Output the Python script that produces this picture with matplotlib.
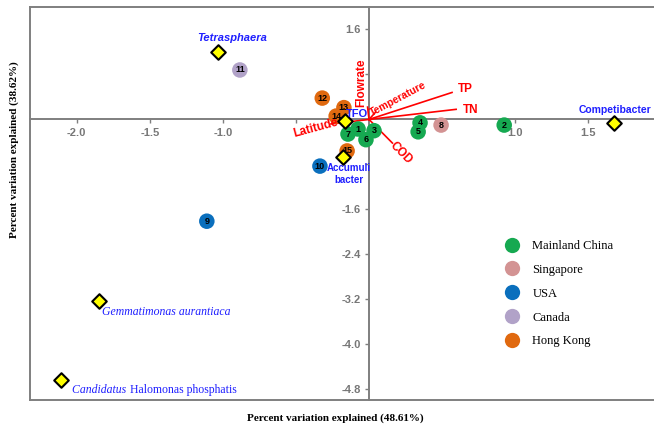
import matplotlib
matplotlib.use("Agg")
import matplotlib.pyplot as plt
from matplotlib.lines import Line2D

# sites (numbered circles)
site_ids = [1, 2, 3, 4, 5, 6, 7, 8, 9, 10, 11, 12, 13, 14, 15]
site_x = [-0.075, 0.925, 0.034, 0.349, 0.336, -0.021, -0.144, 0.493, -1.11, -0.336, -0.884, -0.32, -0.172, -0.225, -0.15]
site_y = [-0.17, -0.10, -0.20, -0.06, -0.22, -0.36, -0.26, -0.10, -1.81, -0.83, 0.88, 0.38, 0.21, 0.06, -0.56]
site_region = ["Mainland China"] * 7 + ["Singapore", "USA", "USA", "Canada"] + ["Hong Kong"] * 4

regions = ["Mainland China", "Singapore", "USA", "Canada", "Hong Kong"]
region_colors = ["#16a951", "#d39393", "#0a6fbd", "#b1a2c8", "#e0690f"]

# species (yellow diamonds)
species = ["Tetrasphaera", "Competibacter", "TFO", "Accumulibacter",
           "Gemmatimonas aurantiaca", "Candidatus Halomonas phosphatis"]
species_x = [-1.034, 1.678, -0.164, -0.178, -1.849, -2.110]
species_y = [1.20, -0.06, -0.03, -0.67, -3.23, -4.64]

# environmental vectors
env_names = ["TP", "TN", "Temperature", "Flowrate", "Latitude", "COD"]
env_x = [0.568, 0.596, 0.045, -0.01, -0.26, 0.16]
env_y = [0.48, 0.18, 0.13, 0.22, -0.08, -0.42]

x_ticks = [-2.0, -1.5, -1.0, -0.5, 0.5, 1.0, 1.5]
x_ticklabels = ["-2.0", "-1.5", "-1.0", "", "", "1.0", "1.5"]
y_ticks = [1.6, 0.8, -0.8, -1.6, -2.4, -3.2, -4.0, -4.8]
y_ticklabels = ["1.6", "", "", "-1.6", "-2.4", "-3.2", "-4.0", "-4.8"]

sans = "Liberation Sans"
serif = "Liberation Serif"
grey = "#777777"

fig = plt.figure(figsize=(6.54, 4.28), dpi=100)
ax = fig.add_axes([30 / 654, 28 / 428, 1 - 30 / 654, 393 / 428])
ax.set_xlim(-2.32, 1.95)
ax.set_ylim(-4.99, 2.0)

# axes crossing at the origin
for side in ["right", "top"]:
    ax.spines[side].set_visible(False)
ax.spines["left"].set_position(("data", 0))
ax.spines["bottom"].set_position(("data", 0))
for side in ["left", "bottom"]:
    ax.spines[side].set_color("#7f7f7f")
    ax.spines[side].set_linewidth(1.4)

# outer frame (left, top, bottom)
frame_kw = dict(transform=ax.transAxes, color="#7f7f7f", lw=1.4, clip_on=False)
ax.plot([0, 0], [0, 1], **frame_kw)
ax.plot([0, 1], [1, 1], **frame_kw)
ax.plot([0, 1], [0, 0], **frame_kw)

ax.set_xticks(x_ticks)
ax.set_xticklabels(x_ticklabels)
ax.set_yticks(y_ticks)
ax.set_yticklabels(y_ticklabels)
ax.tick_params(colors="#7f7f7f", labelcolor=grey, length=3, width=1, pad=3)
for lab in ax.get_xticklabels() + ax.get_yticklabels():
    lab.set_fontfamily(sans)
    lab.set_fontweight("bold")
    lab.set_fontsize(8)

# environmental arrows
for name, ex, ey in zip(env_names, env_x, env_y):
    ax.plot([0, ex], [0, ey], color="red", lw=1.2, zorder=3)
env_lab_pos = {"TP": (0.61, 0.54, 0, "left"), "TN": (0.64, 0.17, 0, "left"),
               "Temperature": (0.2, 0.36, 28, "center"), "Flowrate": (-0.055, 0.65, 90, "center"),
               "Latitude": (-0.365, -0.15, 15, "center"), "COD": (0.22, -0.6, -45, "center")}
for name in env_names:
    lx, ly, rot, ha = env_lab_pos[name]
    fs = 7.5 if name == "Temperature" else 8.5
    ax.text(lx, ly, name, color="red", fontsize=fs, fontweight="bold", family=sans,
            rotation=rot, ha=ha, va="center", zorder=6)

# site circles with numbers
for sid, sx, sy, reg in zip(site_ids, site_x, site_y, site_region):
    col = region_colors[regions.index(reg)]
    ax.scatter(sx, sy, s=125, color=col, edgecolors="none", zorder=4)
    ax.text(sx, sy, str(sid), fontsize=6.5, fontweight="bold", family=sans,
            ha="center", va="center", color="black", zorder=5)

# species diamonds
ax.scatter(species_x, species_y, marker="D", s=55, color="#ffff00",
           edgecolors="black", linewidths=1.5, zorder=7)

blue = "#1f1fff"
ax.text(-0.935, 1.45, "Tetrasphaera", color=blue, fontsize=8, fontweight="bold",
        style="italic", family=sans, ha="center", va="center")
ax.text(1.685, 0.17, "Competibacter", color=blue, fontsize=7.5, fontweight="bold",
        family=sans, ha="center", va="center")
ax.text(-0.08, 0.1, "TFO", color=blue, fontsize=8, fontweight="bold",
        family=sans, ha="center", va="center", zorder=8)
ax.text(-0.14, -0.97, "Accumuli\nbacter", color=blue, fontsize=7, fontweight="bold",
        family=sans, ha="center", va="center", linespacing=1.15)
ax.text(-1.385, -3.43, "Gemmatimonas aurantiaca", color=blue, fontsize=8.5,
        style="italic", family=serif, ha="center", va="center")
cand = ax.text(-2.03, -4.81, "Candidatus ", color=blue, fontsize=8.5,
               style="italic", family=serif, ha="left", va="center")
ax.annotate("Halomonas phosphatis", xy=(1, 0.5), xycoords=cand, color=blue,
            fontsize=8.5, family=serif, ha="left", va="center")

# legend
handles = [Line2D([], [], marker="o", linestyle="none", markersize=11,
                  markerfacecolor=c, markeredgecolor="none") for c in region_colors]
ax.legend(handles, regions, loc="upper left", bbox_to_anchor=(0.745, 0.42),
          frameon=False, prop={"family": serif, "size": 9}, labelspacing=0.95,
          handletextpad=0.6, borderaxespad=0)

fig.text(335 / 654, 1 - 418 / 428, "Percent variation explained (48.61%)", family=serif,
         fontweight="bold", fontsize=8, ha="center", va="center")
fig.text(14 / 654, 1 - 150 / 428, "Percent variation explained (38.62%)", family=serif,
         fontweight="bold", fontsize=8, ha="center", va="center", rotation=90)

fig.savefig("out.png", dpi=100)
